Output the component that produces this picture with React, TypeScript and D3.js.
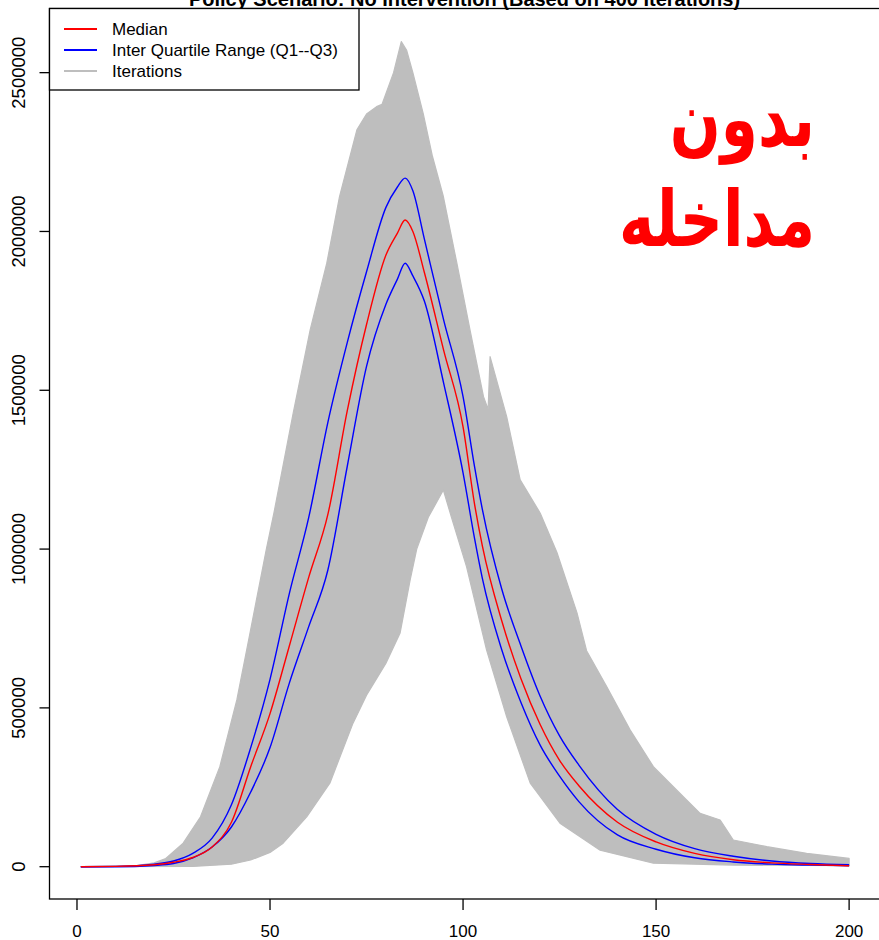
import React from 'react';
import * as d3 from 'd3';

// Days at which the summary curves were read
const days = [1, 10, 20, 25, 30, 35, 40, 45, 50, 55, 60, 65, 70, 75, 80, 83, 85, 87, 90, 95, 100, 103, 105, 110, 115, 120, 125, 130, 140, 150, 160, 170, 180, 190, 200];
// Values in thousands
const medianK = [0, 1, 6, 14, 29, 62, 140, 315, 482, 695, 910, 1110, 1435, 1707, 1925, 1995, 2036, 2000, 1870, 1625, 1385, 1140, 1010, 775, 592, 447, 335, 255, 140, 78, 42, 22, 12, 7, 3];
const q3K = [0, 1, 8, 18, 42, 90, 195, 375, 590, 860, 1098, 1400, 1650, 1873, 2075, 2140, 2168, 2128, 1975, 1720, 1480, 1258, 1125, 875, 695, 536, 412, 320, 180, 102, 57, 33, 18, 10, 6];
const q1K = [0, 0, 4, 10, 28, 62, 125, 235, 375, 578, 755, 935, 1260, 1575, 1770, 1850, 1900, 1860, 1780, 1521, 1240, 1032, 908, 684, 517, 382, 285, 205, 100, 55, 28, 15, 8, 5, 3];

// Envelope of the 400 iterations (max and min), thousands
const upperDays = [1, 15, 20, 23, 27.5, 32, 37, 41.4, 44.8, 49, 51, 56, 60.4, 64.7, 68, 72.5, 75, 77.6, 79, 82, 84, 85.4, 87, 89.7, 92, 94.9, 98.4, 101.8, 105.3, 106.5, 107, 111.3, 114.8, 120, 124.3, 129.5, 132, 137.2, 143.3, 149.3, 157.9, 161.4, 166.6, 170, 178.7, 189, 200];
const upperK = [0, 3, 12, 26, 74, 157, 315, 525, 735, 997, 1113, 1428, 1690, 1900, 2110, 2320, 2370, 2393, 2400, 2500, 2598, 2570, 2500, 2370, 2240, 2110, 1900, 1690, 1480, 1440, 1606, 1417, 1218, 1113, 990, 800, 680, 567, 430, 315, 210, 168, 147, 84, 63, 42, 26];
const lowerDays = [1, 30, 40, 45, 50, 53.4, 59.5, 65.5, 71.5, 75, 80, 83.7, 86.3, 88, 91, 94.9, 97, 100.9, 106.1, 111.3, 117.4, 125.1, 135.5, 149.3, 170, 200];
const lowerK = [0, 1, 8, 21, 45, 74, 157, 263, 452, 540, 640, 736, 903, 1000, 1100, 1186, 1100, 945, 682, 472, 263, 137, 52, 11, 5, 3];

const xTicks = [0, 50, 100, 150, 200];
const yTicks = [0, 500000, 1000000, 1500000, 2000000, 2500000];
const legendLabels = ['Median', 'Inter Quartile Range (Q1--Q3)', 'Iterations'];
const legendColors = ['#ff0000', '#0000ff', '#bebebe'];
const titleText = 'Policy Scenario: No Intervention (Based on 400 Iterations)';
const noteLines = ['بدون', 'مداخله'];

export default function App() {
  const W = 879, H = 940;
  const x = d3.scaleLinear().domain([-7.12, 208]).range([49.5, 880]);
  const y = d3.scaleLinear().domain([-101700, 2702000]).range([899, 8.5]);

  const toPts = (ds: number[], vs: number[]) => ds.map((d, i) => [d, vs[i] * 1000] as [number, number]);
  const line = d3.line<[number, number]>().x(p => x(p[0])).y(p => y(p[1]));
  const smooth = d3.line<[number, number]>().x(p => x(p[0])).y(p => y(p[1])).curve(d3.curveMonotoneX);

  const upperPts = toPts(upperDays, upperK);
  const lowerPts = toPts(lowerDays, lowerK).reverse();
  const envPath = line([...upperPts, ...lowerPts]) + 'Z';

  const font = 'Liberation Sans, Arial, Helvetica, sans-serif';

  return (
    <svg width={W} height={H} style={{ position: 'absolute', left: 0, top: 0, background: '#fff' }}>
      <rect x={0} y={0} width={W} height={H} fill="#fff" />
      {/* title (cut at the top edge, as in the reference) */}
      <text x={464.5} y={6} textAnchor="middle" fontFamily={font} fontWeight="bold" fontSize={20} fill="#000">{titleText}</text>

      {/* iterations envelope */}
      <path d={envPath} fill="#bebebe" stroke="#bebebe" strokeWidth={1.2} strokeLinejoin="round" />

      {/* IQR and median */}
      <path d={smooth(toPts(days, q3K)) || ''} fill="none" stroke="#0000ff" strokeWidth={1.4} />
      <path d={smooth(toPts(days, q1K)) || ''} fill="none" stroke="#0000ff" strokeWidth={1.4} />
      <path d={smooth(toPts(days, medianK)) || ''} fill="none" stroke="#ff0000" strokeWidth={1.4} />

      {/* plot box */}
      <rect x={49.5} y={8.5} width={832} height={890.5} fill="none" stroke="#000" strokeWidth={1.3} />

      {/* x axis */}
      {xTicks.map(t => (
        <g key={'x' + t}>
          <line x1={x(t)} x2={x(t)} y1={899} y2={910} stroke="#000" strokeWidth={1.3} />
          <text x={x(t)} y={937} textAnchor="middle" fontFamily={font} fontSize={17} fill="#000">{t}</text>
        </g>
      ))}
      {/* y axis */}
      {yTicks.map(t => (
        <g key={'y' + t}>
          <line x1={39.5} x2={49.5} y1={y(t)} y2={y(t)} stroke="#000" strokeWidth={1.3} />
          <text transform={`translate(25,${y(t)}) rotate(-90)`} textAnchor="middle" fontFamily={font} fontSize={18.5} fill="#000">{t}</text>
        </g>
      ))}

      {/* legend */}
      <rect x={49.5} y={8.5} width={309.5} height={81.5} fill="#fff" stroke="#000" strokeWidth={1.3} />
      {legendLabels.map((lab, i) => (
        <g key={lab}>
          <line x1={64} x2={97} y1={29 + i * 21} y2={29 + i * 21} stroke={legendColors[i]} strokeWidth={2} />
          <text x={112} y={29 + i * 21} dy="0.35em" fontFamily={font} fontSize={17} fill="#000">{lab}</text>
        </g>
      ))}

      {/* Persian note */}
      {noteLines.map((s, i) => (
        <text key={s} transform={`translate(815,${146 + i * 100}) scale(0.88,1.15)`} textAnchor="end" fontFamily="DejaVu Sans, sans-serif" fontWeight="bold" fontSize={68} fill="#ff0000">{s}</text>
      ))}
    </svg>
  );
}
